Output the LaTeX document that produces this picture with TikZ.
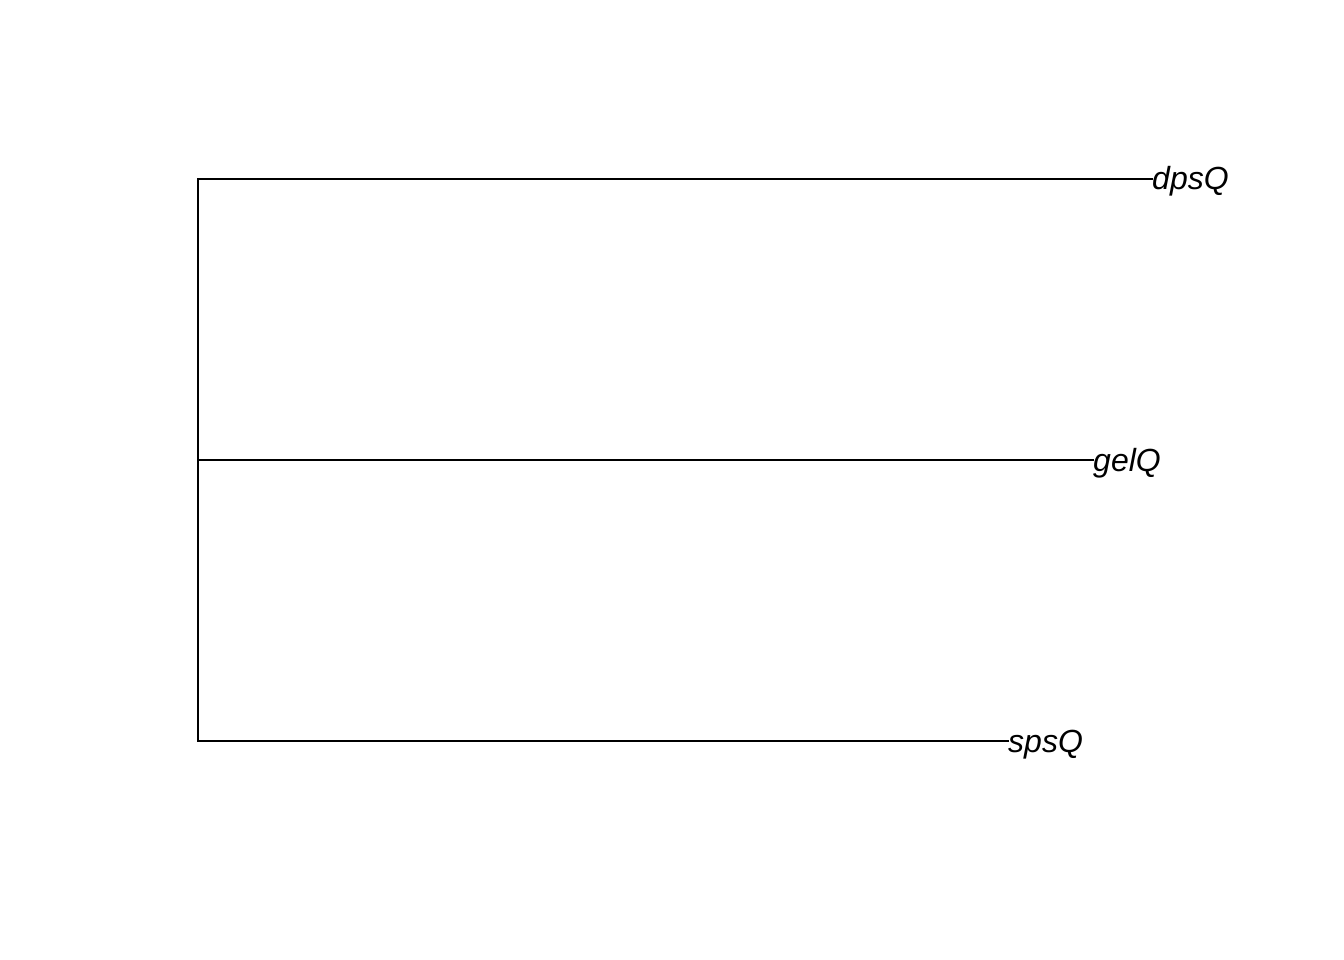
\documentclass[tikz,border=0pt]{standalone}
\usepackage{fontspec}
\setmainfont{Liberation Sans}
\begin{document}
\begin{tikzpicture}[x=1pt,y=-1pt,
  edge/.style={line width=1.5pt,line cap=rect},
  leaf/.style={anchor=base west,inner sep=0pt,yshift=-11pt,font=\fontsize{32}{32}\selectfont\itshape}]
\useasboundingbox (0,0) rectangle (1344,960);
\coordinate (top) at (198,179);
\coordinate (mid) at (198,460);
\coordinate (bot) at (198,741);
\node[leaf] (d) at (1152,179) {dpsQ};
\node[leaf] (g) at (1093,460) {gelQ};
\node[leaf] (s) at (1008,741) {spsQ};
\coordinate (de) at (1152,179);
\coordinate (ge) at (1093,460);
\coordinate (se) at (1008,741);
\draw[edge] (top) -- (bot);
\draw[edge] (top) -- (de);
\draw[edge] (mid) -- (ge);
\draw[edge] (bot) -- (se);
\end{tikzpicture}
\end{document}
